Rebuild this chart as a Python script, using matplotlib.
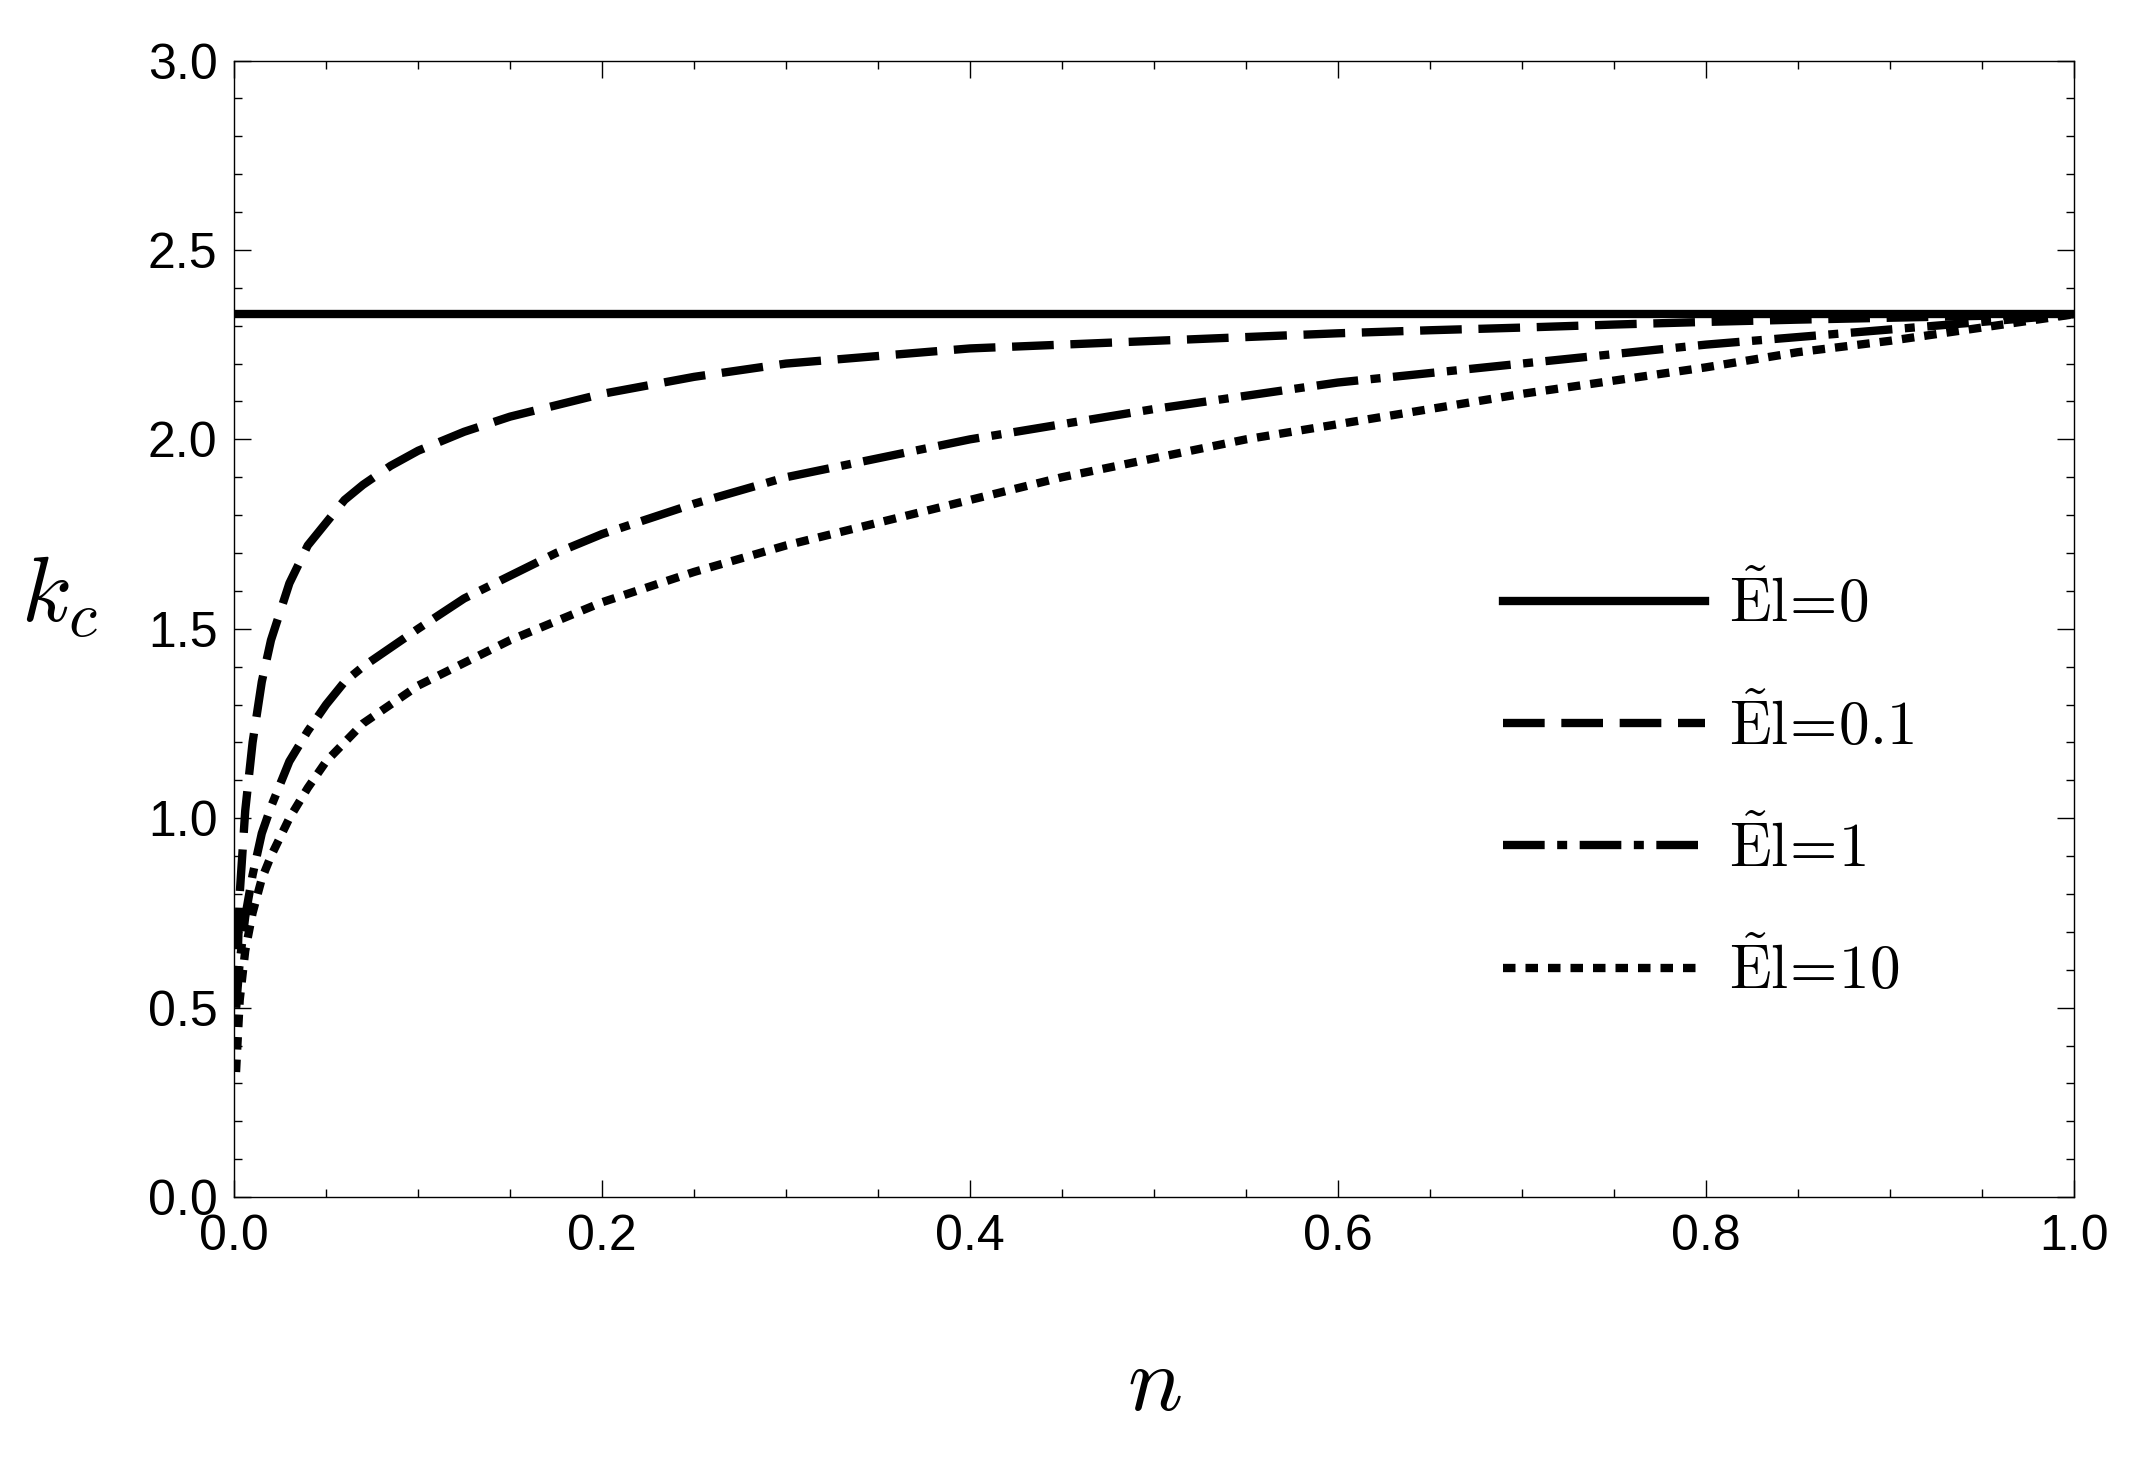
import matplotlib
matplotlib.use("Agg")
import matplotlib.pyplot as plt
import numpy as np

plt.rcParams['mathtext.fontset'] = 'cm'
plt.rcParams['font.family'] = ['Liberation Sans', 'DejaVu Sans']

n_vals = [0.001, 0.003, 0.006, 0.01, 0.015, 0.02, 0.03, 0.04, 0.05, 0.06, 0.07, 0.085, 0.1, 0.125, 0.15, 0.175,
          0.2, 0.25, 0.3, 0.35, 0.4, 0.45, 0.5, 0.55, 0.6, 0.65, 0.7, 0.75, 0.8, 0.85, 0.9, 0.95, 1.0]
k_el0 = [2.33] * len(n_vals)
k_el01 = [0.5, 0.8, 1.02, 1.2, 1.36, 1.47, 1.62, 1.72, 1.78, 1.84, 1.88, 1.93, 1.97, 2.02, 2.06, 2.09,
          2.12, 2.165, 2.2, 2.22, 2.24, 2.25, 2.26, 2.27, 2.28, 2.288, 2.295, 2.303, 2.31, 2.316, 2.321, 2.326, 2.33]
k_el1 = [0.5, 0.62, 0.74, 0.85, 0.96, 1.03, 1.15, 1.23, 1.3, 1.36, 1.4, 1.45, 1.5, 1.58, 1.64, 1.7,
         1.75, 1.83, 1.9, 1.95, 2.0, 2.04, 2.08, 2.115, 2.15, 2.175, 2.2, 2.225, 2.25, 2.27, 2.29, 2.31, 2.33]
k_el10 = [0.33, 0.52, 0.65, 0.75, 0.84, 0.9, 1.0, 1.08, 1.15, 1.2, 1.25, 1.3, 1.35, 1.41, 1.47, 1.52,
          1.57, 1.65, 1.72, 1.78, 1.84, 1.9, 1.95, 2.0, 2.04, 2.08, 2.12, 2.155, 2.19, 2.23, 2.26, 2.295, 2.33]
labels = [r'$\tilde{\rm E}{\rm l}\!=\!0$', r'$\tilde{\rm E}{\rm l}\!=\!0.1$',
          r'$\tilde{\rm E}{\rm l}\!=\!1$', r'$\tilde{\rm E}{\rm l}\!=\!10$']

fig = plt.figure(figsize=(21.29, 14.76), dpi=100)
ax = fig.add_axes([0.110, 0.189, 0.864, 0.770])
lw = 6
ax.plot(n_vals, k_el0, color='black', lw=lw, ls='-', label=labels[0])
ax.plot(n_vals, k_el01, color='black', lw=lw, ls=(0, (5, 2)), label=labels[1])
ax.plot(n_vals, k_el1, color='black', lw=lw, ls=(0, (5, 1.5, 1.2, 1.5)), label=labels[2])
ax.plot(n_vals, k_el10, color='black', lw=lw, ls=(0, (1.5, 1.2)), label=labels[3])

ax.set_xlim(0, 1)
ax.set_ylim(0, 3)
ax.set_xticks(np.arange(0, 1.01, 0.2))
ax.set_yticks(np.arange(0, 3.01, 0.5))
ax.set_xticks(np.arange(0, 1.01, 0.05), minor=True)
ax.set_yticks(np.arange(0, 3.01, 0.1), minor=True)
ax.tick_params(which='both', direction='in', top=True, right=True, labelsize=36, width=1)
ax.tick_params(which='major', length=12, pad=12)
ax.tick_params(which='minor', length=6)
ax.set_xticklabels([f'{v:.1f}' for v in np.arange(0, 1.01, 0.2)])
ax.set_yticklabels([f'{v:.1f}' for v in np.arange(0, 3.01, 0.5)])
for s in ax.spines.values():
    s.set_linewidth(1)

ax.set_xlabel(r'$n$', fontsize=66, labelpad=60)
ax.set_ylabel(r'$k_c$', fontsize=66, rotation=0)
ax.yaxis.set_label_coords(-0.095, 0.49)

ax.legend(loc='center left', bbox_to_anchor=(0.66, 0.36), frameon=False,
          fontsize=44, handlelength=3.3, labelspacing=1.0, handletextpad=0.4)

fig.savefig('out.png', dpi=100)
